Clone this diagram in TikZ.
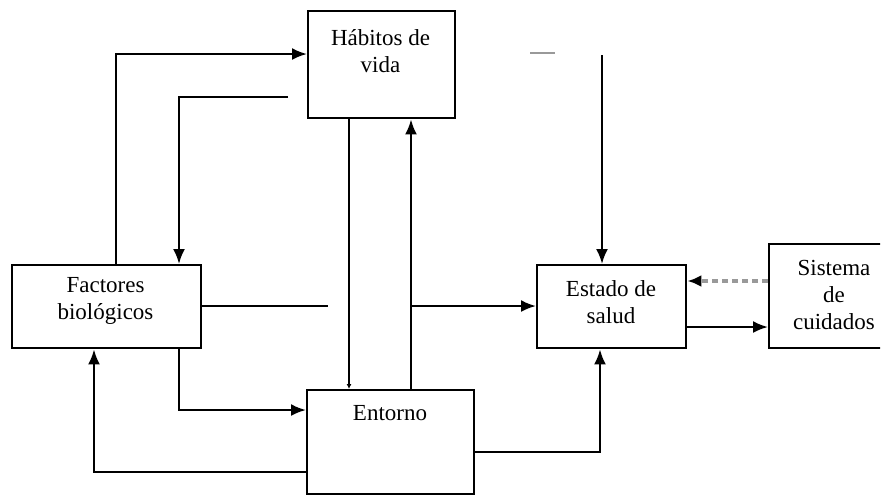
\documentclass[tikz,border=0pt]{standalone}
\usepackage{fontspec}
\setmainfont{Liberation Serif}
\usetikzlibrary{arrows.meta}
\begin{document}
\begin{tikzpicture}[x=0.5pt,y=-0.5pt,
  box/.style={draw=black,line width=1.2pt,rectangle,inner sep=0pt,anchor=north west,fill=white},
  txt/.style={align=center,font=\fontsize{11.5pt}{13.6pt}\selectfont,inner sep=0pt},
  conn/.style={line width=1.15pt,draw=black},
  arr/.style={conn,-{Latex[length=7.5pt,width=6pt]}},
  arrs/.style={conn,-{Latex[length=2.5pt,width=2.5pt]}},
  darr/.style={line width=1.6pt,draw=black!40,dash pattern=on 3pt off 2pt,-{Latex[length=7pt,width=6pt,color=black]}},
]
\useasboundingbox[fill=white] (0,0) rectangle (887,495);
\clip (0,0) rectangle (880,495);
% boxes
\node[box,minimum width=73.5pt,minimum height=53.5pt] (hab) at (307,10) {};
\node[box,minimum width=94.5pt,minimum height=41.5pt] (fac) at (11,264) {};
\node[box,minimum width=83.5pt,minimum height=52pt] (ent) at (306,389) {};
\node[box,minimum width=74.5pt,minimum height=41.5pt] (est) at (536,264) {};
\node[box,minimum width=110pt,minimum height=52pt] (sis) at (768,243) {};
% texts
\node[txt] (habt) at (380.5,51) {Hábitos de\\vida};
\node[txt] (fact) at (105.5,301) {Factores\\biológicos};
\node[txt] (entt) at (390,413) {Entorno};
\node[txt] (estt) at (611,302) {Estado de\\salud};
\node[txt] (sist) at (834,295) {Sistema\\de\\cuidados};
% helper coordinates
\coordinate (c1) at (116,54);
\coordinate (c2) at (288,97);
\coordinate (c3) at (179,97);
\coordinate (c4) at (349,0);
\coordinate (c5) at (411,0);
\coordinate (c6) at (328,306);
\coordinate (c7) at (411,306);
\coordinate (c8) at (179,410);
\coordinate (c9) at (94,472);
\coordinate (c10) at (600,452);
\coordinate (c11) at (602,55);
\coordinate (c12) at (0,327);
\coordinate (c13) at (0,281);
\coordinate (g1) at (530,53);
\coordinate (g2) at (555,53);
% connectors
\draw[arr] (fac.north -| c1) |- (hab.west |- c1);
\draw[arr] (c2) -- (c3) -- (fac.north -| c3);
\draw[arrs] (hab.south -| c4) -- (ent.north -| c4);
\draw[arr] (ent.north -| c5) -- (hab.south -| c5);
\draw[conn] (fac.east |- c6) -- (c6);
\draw[arr] (c7) -- (est.west |- c7);
\draw[arr] (fac.south -| c8) |- (ent.west |- c8);
\draw[arr] (ent.west |- c9) -| (fac.south -| c9);
\draw[arr] (ent.east |- c10) -| (est.south -| c10);
\draw[arr] (c11) -- (est.north -| c11);
\draw[arr] (est.east |- c12) -- (sis.west |- c12);
\draw[darr] (sis.west |- c13) -- (est.east |- c13);
\draw[line width=0.6pt,black!40] (g1) -- (g2);
\end{tikzpicture}
\end{document}
